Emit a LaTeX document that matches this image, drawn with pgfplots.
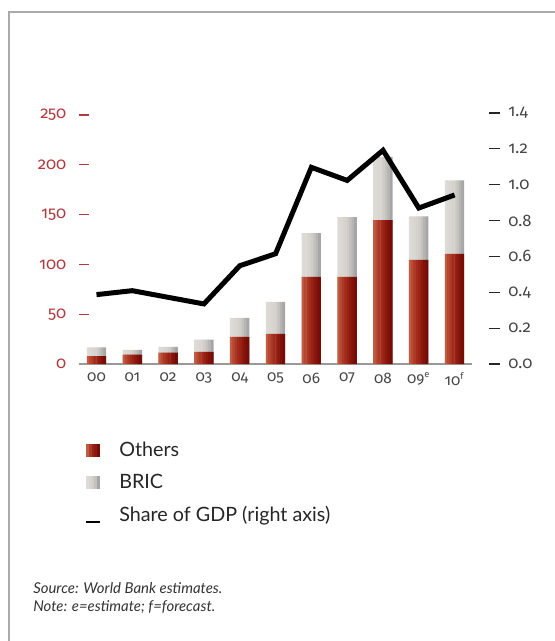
\documentclass[border=0pt]{standalone}
\usepackage{pgfplots}
\usepackage{pgfplotstable}
\pgfplotsset{compat=1.18}
\usepackage{fontspec}
\setmainfont{Lato}
\newfontfamily\tickfont{Fira Sans}[Numbers=OldStyle]
\definecolor{rc0}{RGB}{192,92,66}
\definecolor{rc1}{RGB}{182,72,50}
\definecolor{rc2}{RGB}{172,56,38}
\definecolor{rc3}{RGB}{162,44,28}
\definecolor{rc4}{RGB}{152,34,20}
\definecolor{rc5}{RGB}{140,24,14}
\definecolor{rc6}{RGB}{128,18,10}
\definecolor{rc7}{RGB}{118,12,8}
\definecolor{gc0}{RGB}{222,219,214}
\definecolor{gc1}{RGB}{220,217,212}
\definecolor{gc2}{RGB}{217,214,209}
\definecolor{gc3}{RGB}{214,211,206}
\definecolor{gc4}{RGB}{208,205,201}
\definecolor{gc5}{RGB}{196,194,191}
\definecolor{gc6}{RGB}{182,181,180}
\definecolor{gc7}{RGB}{166,166,166}
\definecolor{lblred}{RGB}{176,58,62}
\definecolor{lblgray}{RGB}{70,70,70}
\definecolor{framegray}{RGB}{170,170,170}

% x: year index; others: Others; total: Others + BRIC
\pgfplotstableread{
x others total
0 8.0 16.7
1 9.3 14.3
2 11.3 17.3
3 12.3 24.4
4 27.3 46.4
5 30.3 62.4
6 87.5 131.5
7 87.5 147.5
8 144.5 208.0
9 104.5 148.3
10 110.5 184.3
}\bardata

\newcommand{\gradsquare}[1]{%
  \fill[#10] (0pt,-5pt) rectangle (2.2pt,5pt);
  \fill[#12] (2pt,-5pt) rectangle (4.2pt,5pt);
  \fill[#14] (4pt,-5pt) rectangle (6.2pt,5pt);
  \fill[#15] (6pt,-5pt) rectangle (8.2pt,5pt);
  \fill[#17] (8pt,-5pt) rectangle (10pt,5pt);}

\begin{document}
\begin{tikzpicture}[x=0.75pt,y=-0.75pt]
\useasboundingbox (0,0) rectangle (555,641);
\draw[framegray, line width=1.2pt] (9,641) -- (9,12) -- (555,12);

\begin{axis}[
  at={(59.25pt,-273pt)}, anchor=south west,
  scale only axis, width=294.75pt, height=186.75pt,
  xmin=-0.489, xmax=10.49, ymin=0, ymax=250,
  axis x line*=bottom, axis y line*=left,
  x axis line style={draw=black!40, line width=0.8pt},
  y axis line style={draw=none},
  xtick={0,...,10},
  xticklabels={00,01,02,03,04,05,06,07,08,09\textsuperscript{\scriptsize e},10\textsuperscript{\scriptsize f}},
  xtick style={draw=none},
  xticklabel style={font=\tickfont\fontsize{11.5}{12}\selectfont, text=lblgray, yshift=-3pt, anchor=north},
  ytick={0,50,...,250},
  tick align=inside, major tick length=7.5pt,
  ytick style={draw=lblred, line width=0.8pt},
  yticklabel style={font=\tickfont\fontsize{12.5}{13}\selectfont, text=lblred, xshift=-6pt},
  /pgf/number format/assume math mode=true,
  clip=false,
]
\pgfplotsinvokeforeach{0,...,7}{
  \addplot[ybar, bar width=2.1pt, bar shift={(#1-3.5)*1.78125pt}, fill=gc#1, draw=none, forget plot]
    table[x=x, y=total] {\bardata};
}
\pgfplotsinvokeforeach{0,...,7}{
  \addplot[ybar, bar width=2.1pt, bar shift={(#1-3.5)*1.78125pt}, fill=rc#1, draw=none, forget plot]
    table[x=x, y=others] {\bardata};
}
\end{axis}

\begin{axis}[
  at={(59.25pt,-273pt)}, anchor=south west,
  scale only axis, width=307.5pt, height=188.25pt,
  xmin=-0.489, xmax=10.96, ymin=0, ymax=1.4,
  axis x line=none, axis y line*=right,
  y axis line style={draw=none},
  ytick={0,0.2,0.4,0.6,0.8,1.0,1.2,1.4},
  tick align=outside, major tick length=8pt,
  ytick style={draw=black!85, line width=0.8pt},
  yticklabel style={font=\tickfont\fontsize{12.5}{13}\selectfont, text=lblgray, xshift=3pt,
    /pgf/number format/.cd, fixed, fixed zerofill, precision=1},
  /pgf/number format/assume math mode=true,
  legend style={at={(rel axis cs:0.005,-0.29)}, anchor=north west, draw=none, fill=none,
    font=\fontsize{14.8}{17}\selectfont, text=black!85, row sep=7.5pt,
    /tikz/every odd column/.append style={column sep=12pt}},
  legend cell align=left,
  clip=false,
]
\addlegendimage{draw=none, legend image code/.code={\gradsquare{rc}}}
\addlegendentry{Others}
\addlegendimage{draw=none, legend image code/.code={\gradsquare{gc}}}
\addlegendentry{BRIC}
\addplot[black, line width=3.75pt, line join=miter, mark=none,
  legend image code/.code={\draw[black, line width=1.5pt] (0pt,-5.5pt) -- (10pt,-5.5pt);}]
  coordinates {(0,0.387) (1,0.409) (2,0.372) (3,0.335) (4,0.548) (5,0.615) (6,1.097) (7,1.024) (8,1.192) (9,0.870) (10,0.943)};
\addlegendentry{Share of GDP (right axis)}
\end{axis}

\node[anchor=base west, font=\itshape\fontsize{11.2}{13}\selectfont, text=black!80, inner sep=0] at (33,593) {Source: World Bank estimates.};
\node[anchor=base west, font=\itshape\fontsize{11.2}{13}\selectfont, text=black!80, inner sep=0] at (33,611) {Note: e=estimate; f=forecast.};
\end{tikzpicture}
\end{document}
